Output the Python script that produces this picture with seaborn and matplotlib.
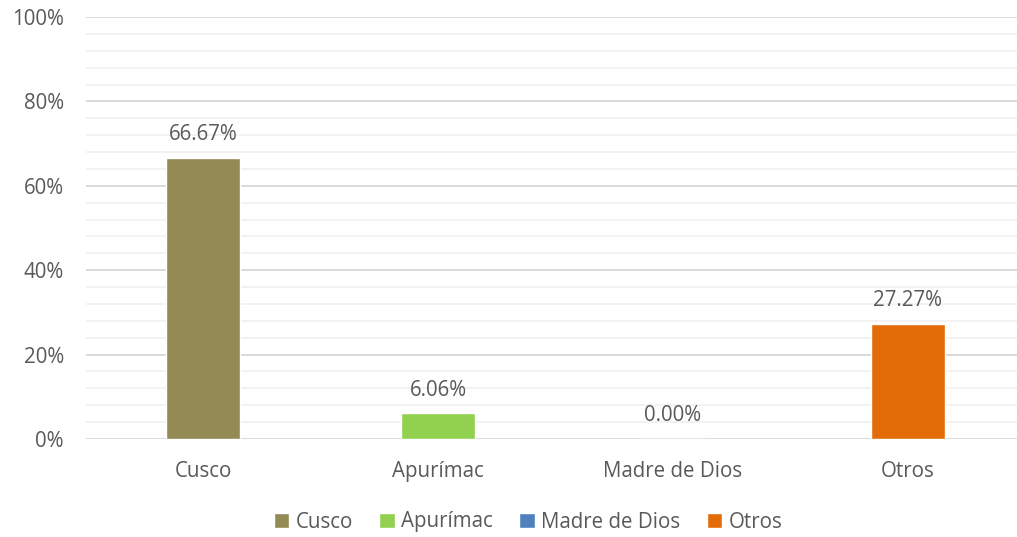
import matplotlib
matplotlib.use("Agg")
import matplotlib.pyplot as plt
import seaborn as sns
import pandas as pd
from matplotlib.ticker import MultipleLocator, PercentFormatter

categories = ["Cusco", "Apurímac", "Madre de Dios", "Otros"]
values = [66.67, 6.06, 0.00, 27.27]
colors = ["#948A54", "#92D050", "#4F81BD", "#E36C09"]
yticks = [0, 20, 40, 60, 80, 100]

df = pd.DataFrame({"region": categories, "pct": values})

sns.set_style("white")
plt.rcParams['font.family'] = ['Open Sans', 'DejaVu Sans']
text_color = "#595959"
fs = 14.8

W, H = 1017, 537
fig = plt.figure(figsize=(W / 100, H / 100), dpi=100)
left, right, top, bottom = 86, 1025, 17, 439
ax = fig.add_axes([left / W, 1 - bottom / H, (right - left) / W, (bottom - top) / H])

sns.barplot(data=df, x="region", y="pct", hue="region", palette=colors,
            order=categories, hue_order=categories, dodge=False,
            width=0.315, ax=ax, legend=True, saturation=1)

ax.set_ylim(0, 100)
ax.set_xlim(-0.5, 3.5)
ax.set_yticks(yticks)
ax.yaxis.set_minor_locator(MultipleLocator(4))
ax.yaxis.set_major_formatter(PercentFormatter(decimals=0))
ax.grid(True, which="minor", axis="y", color="#F2F2F2", linewidth=1.4, zorder=0)
ax.grid(True, which="major", axis="y", color="#D9D9D9", linewidth=1.4, zorder=0)
ax.set_axisbelow(True)
for s in ax.spines.values():
    s.set_visible(False)
ax.tick_params(axis="both", which="both", length=0, labelsize=fs, colors=text_color)
ax.tick_params(axis="y", pad=16)
ax.tick_params(axis="x", pad=16)
ax.set_xlabel("")
ax.set_ylabel("")

for i, v in enumerate(values):
    ax.text(i, v + 3.0, f"{v:.2f}%", ha="center", va="bottom", fontsize=fs, color=text_color)

leg = ax.legend(loc="center", ncol=4, frameon=False, fontsize=fs,
                handlelength=0.75, handleheight=0.75, handletextpad=0.3, columnspacing=1.3)
for t in leg.get_texts():
    t.set_color(text_color)
leg.set_bbox_to_anchor((528 / W, 1 - 522 / H), transform=fig.transFigure)

fig.savefig("out.png", dpi=100)
